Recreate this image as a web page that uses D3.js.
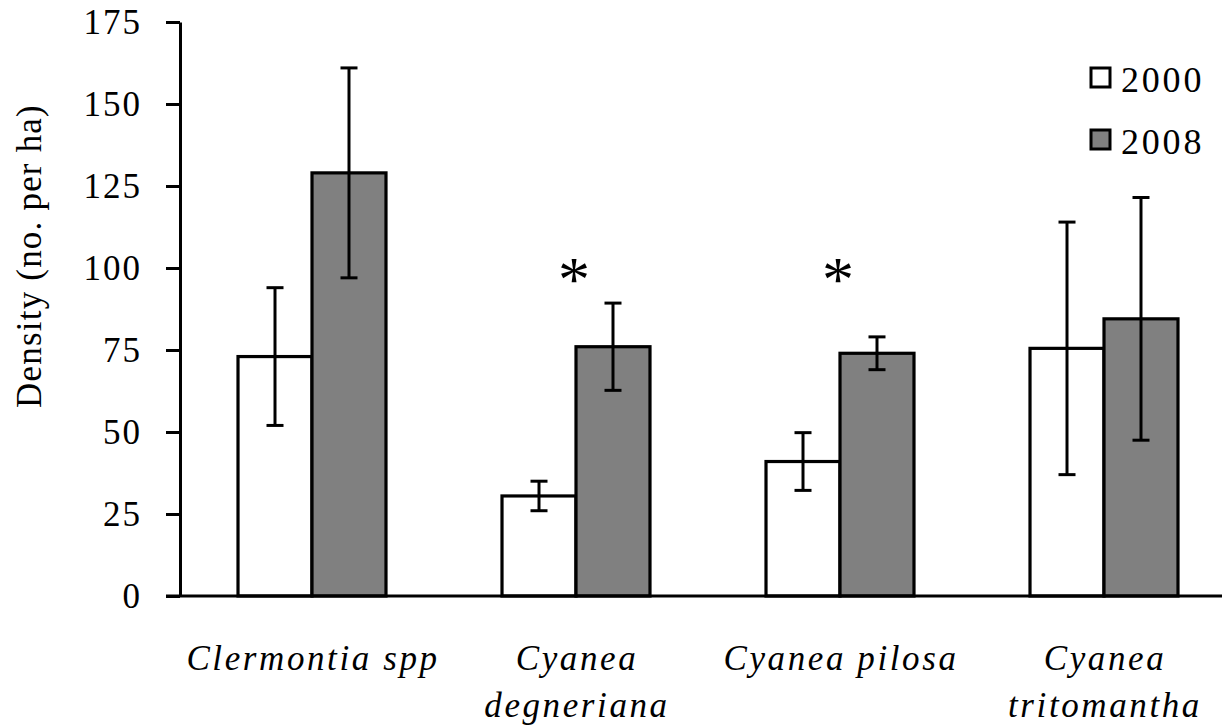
<!DOCTYPE html>
<html><head><meta charset="utf-8">
<script src="https://cdn.jsdelivr.net/npm/d3@7/dist/d3.min.js"></script>
<style>
body{margin:0;background:#fff}
svg{display:block}
svg text, svg tspan{font-family:'Liberation Serif','Times New Roman',Times,serif}
</style>
</head><body>
<svg id="c" width="1222" height="726"></svg>
<script>
const categories = [["Clermontia spp"], ["Cyanea", "degneriana"], ["Cyanea pilosa"], ["Cyanea", "tritomantha"]];
const years = ["2000", "2008"];
const mean2000 = [73, 30.5, 41, 75.5];
const err2000 = [21, 4.5, 8.8, 38.5];
const mean2008 = [129, 76, 74, 84.5];
const err2008 = [32, 13.3, 5, 37];
const significant = [false, true, true, false];
const starLevel = 90;
const yTicks = [0, 25, 50, 75, 100, 125, 150, 175];

const FONT = "'Liberation Serif'";
const svg = d3.select("#c");
const W = 1222;
const mLeft = 180, mBottom = 596, mTop = 22;
const ids = categories.map((c, i) => "c" + i);
const x0 = d3.scaleBand().domain(ids).range([mLeft, mLeft + 4 * 264]);
const x1 = d3.scaleBand().domain(years).range([0, x0.bandwidth()]).paddingInner(0).paddingOuter(0.784);
const y = d3.scaleLinear().domain([0, 175]).range([mBottom, mTop]);

const data = ids.map((id, i) => ({id, i, vals: [
  {year: "2000", v: mean2000[i], e: err2000[i], fill: "#fff"},
  {year: "2008", v: mean2008[i], e: err2008[i], fill: "#808080"}]}));

const groups = svg.append("g").selectAll("g.grp").data(data).join("g").attr("class", "grp")
  .attr("transform", d => `translate(${x0(d.id)},0)`);
groups.selectAll("rect").data(d => d.vals).join("rect")
  .attr("x", d => x1(d.year)).attr("width", x1.bandwidth())
  .attr("y", d => y(d.v)).attr("height", d => y(0) - y(d.v))
  .attr("fill", d => d.fill).attr("stroke", "#000").attr("stroke-width", 3.2);

// error bars
const cap = 8.5;
groups.selectAll("g.err").data(d => d.vals).join("g").attr("class", "err").each(function(d) {
  const cx = x1(d.year) + x1.bandwidth() / 2;
  const s = d3.select(this);
  s.append("line").attr("x1", cx).attr("x2", cx).attr("y1", y(d.v + d.e)).attr("y2", y(d.v - d.e));
  s.append("line").attr("x1", cx - cap).attr("x2", cx + cap).attr("y1", y(d.v + d.e)).attr("y2", y(d.v + d.e));
  s.append("line").attr("x1", cx - cap).attr("x2", cx + cap).attr("y1", y(d.v - d.e)).attr("y2", y(d.v - d.e));
  s.selectAll("line").attr("stroke", "#000").attr("stroke-width", 3);
});

function serif(sel, size, ls) {
  return sel.attr("font-family", "Liberation Serif").style("font-family", FONT)
    .style("font-size", size + "px").style("letter-spacing", (ls || 0) + "px");
}

// asterisks
serif(groups.filter(d => significant[d.i]).append("text")
  .attr("x", x0.bandwidth() / 2 - 2).attr("y", y(starLevel))
  .attr("text-anchor", "middle").text("*"), 64);

// y axis
const yAxis = d3.axisLeft(y).tickValues(yTicks).tickSize(14).tickSizeOuter(0).tickPadding(24);
const ya = svg.append("g").attr("transform", `translate(${mLeft},0)`).call(yAxis);
ya.attr("font-family", "Liberation Serif");
ya.select(".domain").attr("stroke-width", 3);
ya.selectAll(".tick line").attr("stroke-width", 3);
serif(ya.selectAll(".tick text").attr("fill", "#000"), 35, 2);

// x axis line
svg.append("line").attr("x1", mLeft - 14).attr("x2", W).attr("y1", y(0)).attr("y2", y(0))
  .attr("stroke", "#000").attr("stroke-width", 3);

// x labels
const xl = svg.append("g");
categories.forEach((lines, i) => {
  const cx = x0(ids[i]) + x0.bandwidth() / 2 + 1;
  const t = serif(xl.append("text").attr("x", cx).attr("y", 670)
    .attr("text-anchor", "middle").style("font-style", "italic"), 35, 2.6);
  lines.forEach((l, j) => t.append("tspan").attr("x", cx).attr("dy", j ? 47 : 0).text(l));
});

// y label
serif(svg.append("text").attr("transform", `translate(41,${(y(0) + y(175)) / 2 - 53}) rotate(-90)`)
  .attr("text-anchor", "middle").text("Density (no. per ha)"), 35, 1.2);

// legend
const lg = svg.append("g");
years.forEach((yr, i) => {
  const yy = 68 + i * 62;
  lg.append("rect").attr("x", 1091).attr("y", yy).attr("width", 19).attr("height", 19)
    .attr("fill", i ? "#808080" : "#fff").attr("stroke", "#000").attr("stroke-width", 3);
  serif(lg.append("text").attr("x", 1121).attr("y", yy + 24).text(yr), 36, 2.8);
});
</script>
</body></html>
